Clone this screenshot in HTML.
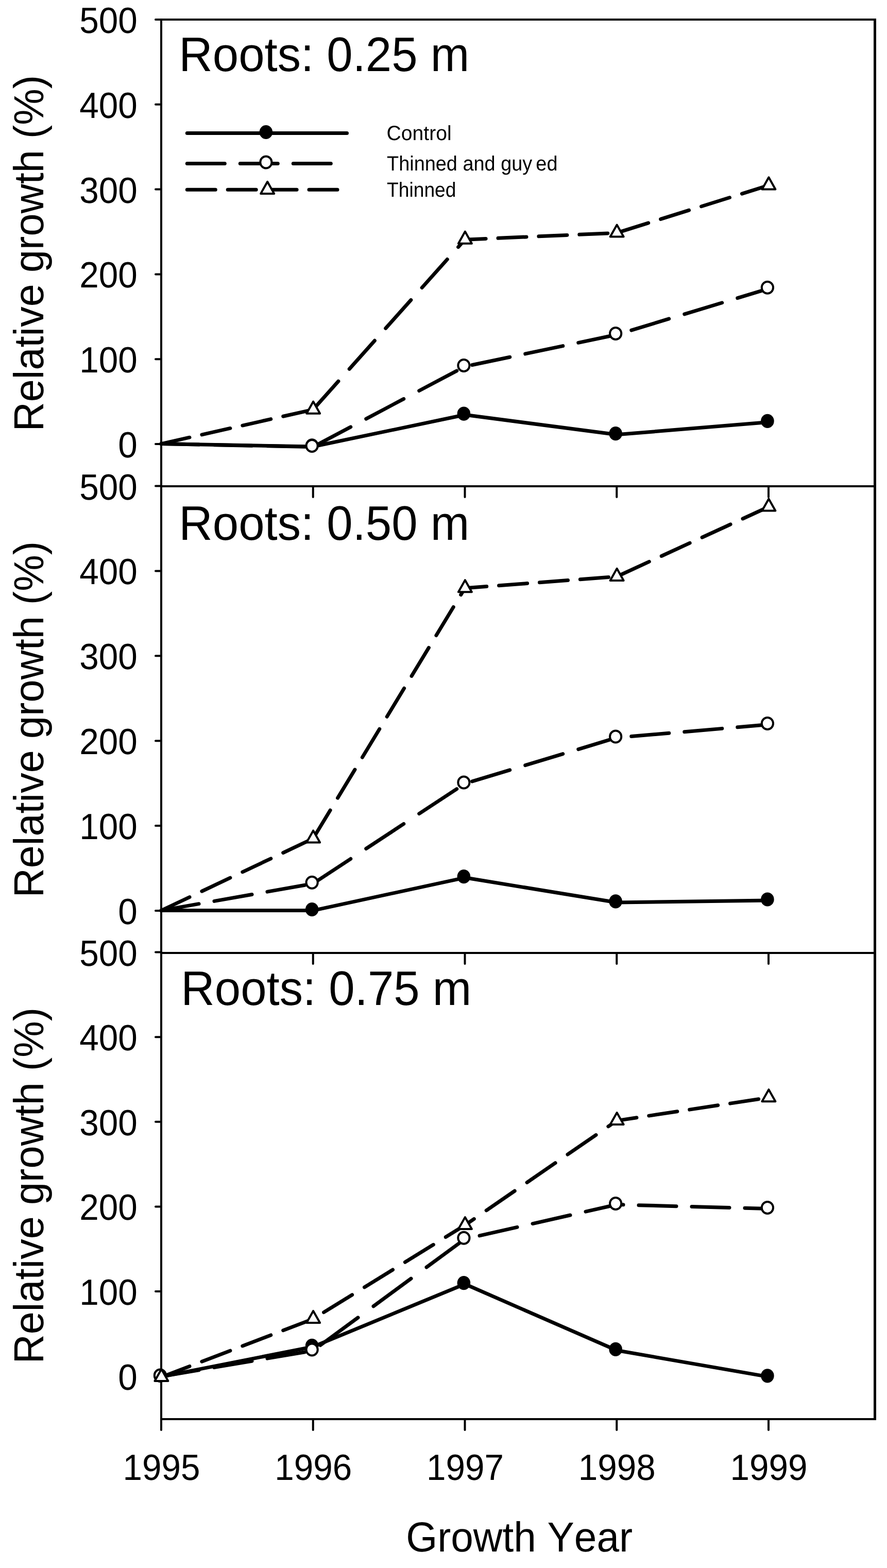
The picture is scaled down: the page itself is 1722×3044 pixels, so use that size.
<!DOCTYPE html>
<html lang="en"><head><meta charset="utf-8"><title>Relative growth of roots by growth year</title>
<style>html,body{margin:0;padding:0;background:#fff}body{width:1722px;height:3044px;overflow:hidden}svg{display:block}text{font-family:"Liberation Sans",sans-serif;fill:#000;white-space:pre;font-kerning:none;text-rendering:geometricPrecision}.ax{stroke:#000;stroke-width:4;fill:none;stroke-linecap:butt}.tk{stroke:#000;stroke-width:4;fill:none;stroke-linecap:round}.ln{stroke:#000;stroke-width:7;fill:none;stroke-linecap:round;stroke-linejoin:round}.om{fill:#fff;stroke:#000;stroke-width:4;stroke-linejoin:round}.fm{fill:#000;stroke:none}</style>
</head><body>
<svg width="1722" height="3044" viewBox="0 0 1722 3044">
<rect x="0" y="0" width="1722" height="3044" fill="#fff"/>
<g class="tk">
<line x1="302" y1="38" x2="313" y2="38"/>
<line x1="302" y1="202.8" x2="313" y2="202.8"/>
<line x1="302" y1="367.6" x2="313" y2="367.6"/>
<line x1="302" y1="532.4" x2="313" y2="532.4"/>
<line x1="302" y1="697.2" x2="313" y2="697.2"/>
<line x1="302" y1="862" x2="313" y2="862"/>
<line x1="302" y1="943.6" x2="313" y2="943.6"/>
<line x1="302" y1="1108.48" x2="313" y2="1108.48"/>
<line x1="302" y1="1273.36" x2="313" y2="1273.36"/>
<line x1="302" y1="1438.24" x2="313" y2="1438.24"/>
<line x1="302" y1="1603.12" x2="313" y2="1603.12"/>
<line x1="302" y1="1768" x2="313" y2="1768"/>
<line x1="302" y1="1848.6" x2="313" y2="1848.6"/>
<line x1="302" y1="2013.22" x2="313" y2="2013.22"/>
<line x1="302" y1="2177.84" x2="313" y2="2177.84"/>
<line x1="302" y1="2342.46" x2="313" y2="2342.46"/>
<line x1="302" y1="2507.08" x2="313" y2="2507.08"/>
<line x1="302" y1="2671.7" x2="313" y2="2671.7"/>
<line x1="607.75" y1="944" x2="607.75" y2="965"/>
<line x1="902.5" y1="944" x2="902.5" y2="965"/>
<line x1="1197.25" y1="944" x2="1197.25" y2="965"/>
<line x1="1492" y1="944" x2="1492" y2="965"/>
<line x1="607.75" y1="1850" x2="607.75" y2="1871"/>
<line x1="902.5" y1="1850" x2="902.5" y2="1871"/>
<line x1="1197.25" y1="1850" x2="1197.25" y2="1871"/>
<line x1="1492" y1="1850" x2="1492" y2="1871"/>
<line x1="313" y1="2755" x2="313" y2="2776"/>
<line x1="607.75" y1="2755" x2="607.75" y2="2776"/>
<line x1="902.5" y1="2755" x2="902.5" y2="2776"/>
<line x1="1197.25" y1="2755" x2="1197.25" y2="2776"/>
<line x1="1492" y1="2755" x2="1492" y2="2776"/>
</g>
<g class="ax">
<line x1="313" y1="36" x2="313" y2="2757"/>
<line x1="1698.5" y1="36" x2="1698.5" y2="2757" stroke-width="5"/>
<line x1="313" y1="38" x2="1698.5" y2="38"/>
<line x1="313" y1="944" x2="1698.5" y2="944"/>
<line x1="313" y1="1850" x2="1698.5" y2="1850"/>
<line x1="313" y1="2755" x2="1698.5" y2="2755"/>
</g>
<g class="ln">
<path d="M313 861.6 L607.75 867 L902.5 805.3 L1197.25 843.8 L1492 819.5"/>
</g>
<g class="fm"><ellipse cx="605.65" cy="864.9" rx="12.8" ry="13.6"/><ellipse cx="900.4" cy="803.2" rx="12.8" ry="13.6"/><ellipse cx="1195.15" cy="841.7" rx="12.8" ry="13.6"/><ellipse cx="1489.9" cy="817.4" rx="12.8" ry="13.6"/></g>
<g class="ln">
<path d="M313 861.6L386 863.09M416 863.7L489 865.18M519 865.79L592 867.28"/>
<path d="M607.75 867.6L680.75 828.94M710.75 813.05L783.75 774.39M813.75 758.5L886.75 719.84M916.75 708.51L989.75 693.21M1019.75 686.92L1092.75 671.61M1122.75 665.32L1195.75 650.01M1225.75 641.07L1298.75 618.95M1328.75 609.86L1401.75 587.74M1431.75 578.65L1492 560.4"/>
</g>
<g class="om"><ellipse cx="605.65" cy="865.5" rx="11.1" ry="11.5"/><ellipse cx="900.4" cy="709.4" rx="11.1" ry="11.5"/><ellipse cx="1195.15" cy="647.6" rx="11.1" ry="11.5"/><ellipse cx="1489.9" cy="558.3" rx="11.1" ry="11.5"/></g>
<g class="ln">
<path d="M313 861.6L368 849.21M391.9 843.83L446.9 831.44M470.8 826.05L525.8 813.66M549.7 808.28L604.7 795.89"/>
<path d="M607.75 795.2L656.88 740.2M678.22 716.3L727.35 661.3M748.69 637.4L797.82 582.4M819.17 558.5L868.29 503.5M889.64 479.6L902.5 465.2M902.5 465.2L943.1 463.4M967 462.33L1022 459.89M1045.9 458.83L1100.9 456.38M1124.8 455.32L1179.8 452.88M1203.7 450.08L1258.7 432.88M1282.6 425.4L1337.6 408.2M1361.5 400.72L1416.5 383.52M1440.4 376.04L1492 359.9"/>
</g>
<g class="om"><polygon points="608.15,779.6 621.15,802.7 595.15,802.7"/><polygon points="902.9,449.6 915.9,472.7 889.9,472.7"/><polygon points="1197.65,436.5 1210.65,459.6 1184.65,459.6"/><polygon points="1492.4,344.3 1505.4,367.4 1479.4,367.4"/></g>
<g class="ln">
<path d="M313 1767.6 L607.75 1767.6 L902.5 1703.8 L1197.25 1752 L1492 1748.1"/>
</g>
<g class="fm"><ellipse cx="605.65" cy="1765.5" rx="12.8" ry="13.6"/><ellipse cx="900.4" cy="1701.7" rx="12.8" ry="13.6"/><ellipse cx="1195.15" cy="1749.9" rx="12.8" ry="13.6"/><ellipse cx="1489.9" cy="1746" rx="12.8" ry="13.6"/></g>
<g class="ln">
<path d="M313 1767.6L386 1754.67M416 1749.36L489 1736.43M519 1731.12L592 1718.19"/>
<path d="M607.75 1715.4L680.75 1667.3M710.75 1647.54L783.75 1599.44M813.75 1579.67L886.75 1531.58M916.75 1516.89L989.75 1494.8M1019.75 1485.72L1092.75 1463.62M1122.75 1454.55L1195.75 1432.45M1225.75 1429.54L1298.75 1423.25M1328.75 1420.67L1401.75 1414.38M1431.75 1411.79L1492 1406.6"/>
</g>
<g class="om"><ellipse cx="605.65" cy="1713.3" rx="11.1" ry="11.5"/><ellipse cx="900.4" cy="1519.1" rx="11.1" ry="11.5"/><ellipse cx="1195.15" cy="1429.9" rx="11.1" ry="11.5"/><ellipse cx="1489.9" cy="1404.5" rx="11.1" ry="11.5"/></g>
<g class="ln">
<path d="M313 1767.6L368 1741.55M391.9 1730.23L446.9 1704.18M470.8 1692.86L525.8 1666.81M549.7 1655.49L604.7 1629.44"/>
<path d="M607.75 1628L641.09 1573M655.58 1549.1L688.92 1494.1M703.41 1470.2L736.76 1415.2M751.25 1391.3L784.59 1336.3M799.08 1312.4L832.42 1257.4M846.91 1233.5L880.25 1178.5M894.74 1154.6L902.5 1141.8M902.5 1141.8L944.7 1138.59M968.6 1136.78L1023.6 1132.6M1047.5 1130.78L1102.5 1126.6M1126.4 1124.78L1181.4 1120.6M1205.3 1115.7L1260.3 1090.44M1284.2 1079.46L1339.2 1054.19M1363.1 1043.21L1418.1 1017.95M1442 1006.97L1492 984"/>
</g>
<g class="om"><polygon points="608.15,1612.4 621.15,1635.5 595.15,1635.5"/><polygon points="902.9,1126.2 915.9,1149.3 889.9,1149.3"/><polygon points="1197.65,1103.8 1210.65,1126.9 1184.65,1126.9"/><polygon points="1492.4,968.4 1505.4,991.5 1479.4,991.5"/></g>
<g class="ln">
<path d="M313 2672.6 L607.75 2614.4 L902.5 2492.8 L1197.25 2621.5 L1492 2672.9"/>
</g>
<g class="fm"><ellipse cx="310.9" cy="2670.5" rx="12.8" ry="13.6"/><ellipse cx="605.65" cy="2612.3" rx="12.8" ry="13.6"/><ellipse cx="900.4" cy="2490.7" rx="12.8" ry="13.6"/><ellipse cx="1195.15" cy="2619.4" rx="12.8" ry="13.6"/><ellipse cx="1489.9" cy="2670.8" rx="12.8" ry="13.6"/></g>
<g class="ln">
<path d="M313 2672.2L386 2659.77M416 2654.66L489 2642.22M519 2637.12L592 2624.68M622 2611.53L695 2557.88M725 2535.84L798 2482.19M828 2460.15L901 2406.5M931 2398.93L1004 2382.36M1034 2375.55L1107 2358.98M1137 2352.18L1197.25 2338.5M1197.25 2338.5L1210 2338.85M1240 2339.66L1313 2341.64M1343 2342.46L1416 2344.44M1446 2345.25L1492 2346.5"/>
</g>
<g class="om"><ellipse cx="310.9" cy="2670.1" rx="11.1" ry="11.5"/><ellipse cx="605.65" cy="2619.9" rx="11.1" ry="11.5"/><ellipse cx="900.4" cy="2403.3" rx="11.1" ry="11.5"/><ellipse cx="1195.15" cy="2336.4" rx="11.1" ry="11.5"/><ellipse cx="1489.9" cy="2344.4" rx="11.1" ry="11.5"/></g>
<g class="ln">
<path d="M313 2673.5L368 2652.41M391.9 2643.25L446.9 2622.17M470.8 2613L525.8 2591.92M549.7 2582.75L604.7 2561.67M628.6 2547.63L683.6 2513.69M707.5 2498.94L762.5 2465M786.4 2450.25L841.4 2416.31M865.3 2401.56L902.5 2378.6M902.5 2378.6L920.3 2366.34M944.2 2349.88L999.2 2312M1023.1 2295.54L1078.1 2257.66M1102 2241.2L1157 2203.32M1180.9 2186.86L1197.25 2175.6M1197.25 2175.6L1235.9 2169.73M1259.8 2166.09L1314.8 2157.73M1338.7 2154.1L1393.7 2145.74M1417.6 2142.11L1472.6 2133.75"/>
</g>
<g class="om"><polygon points="313.4,2657.9 326.4,2681 300.4,2681"/><polygon points="608.15,2544.9 621.15,2568 595.15,2568"/><polygon points="902.9,2363 915.9,2386.1 889.9,2386.1"/><polygon points="1197.65,2160 1210.65,2183.1 1184.65,2183.1"/><polygon points="1492.4,2115.2 1505.4,2138.3 1479.4,2138.3"/></g>
<g class="ln"><path d="M363.3 258.5 L673.5 258.5"/><path d="M363.3 317.4L436.3 317.4M466.3 317.4L539.3 317.4M569.3 317.4L642.3 317.4"/><path d="M363.3 368.3L418.3 368.3M442.2 368.3L497.2 368.3M521.1 368.3L576.1 368.3M600 368.3L655 368.3"/></g>
<g class="fm"><ellipse cx="516.4" cy="256.5" rx="12.8" ry="13.6"/></g>
<g class="om"><ellipse cx="516.4" cy="315.1" rx="11.1" ry="11.5"/><polygon points="519.2,352.8 532.2,375.9 506.2,375.9"/></g>
<text transform="translate(750.61 272) scale(0.9780 1)" font-size="40">Control</text>
<text transform="translate(751.05 330.9) scale(0.9470 1)" font-size="40">Thinned and guy<tspan x="305.52">ed</tspan></text>
<text transform="translate(751.06 382) scale(0.9300 1)" font-size="40">Thinned</text>
<g font-size="70.8" text-anchor="end">
<text transform="translate(266.84 64) scale(0.953 1)">500</text>
<text transform="translate(266.84 228.8) scale(0.953 1)">400</text>
<text transform="translate(266.84 393.6) scale(0.953 1)">300</text>
<text transform="translate(266.84 558.4) scale(0.953 1)">200</text>
<text transform="translate(266.84 723.2) scale(0.953 1)">100</text>
<text transform="translate(266.84 888) scale(0.953 1)">0</text>
<text transform="translate(266.84 969.6) scale(0.953 1)">500</text>
<text transform="translate(266.84 1134.48) scale(0.953 1)">400</text>
<text transform="translate(266.84 1299.36) scale(0.953 1)">300</text>
<text transform="translate(266.84 1464.24) scale(0.953 1)">200</text>
<text transform="translate(266.84 1629.12) scale(0.953 1)">100</text>
<text transform="translate(266.84 1794) scale(0.953 1)">0</text>
<text transform="translate(266.84 1874.6) scale(0.953 1)">500</text>
<text transform="translate(266.84 2039.22) scale(0.953 1)">400</text>
<text transform="translate(266.84 2203.84) scale(0.953 1)">300</text>
<text transform="translate(266.84 2368.46) scale(0.953 1)">200</text>
<text transform="translate(266.84 2533.08) scale(0.953 1)">100</text>
<text transform="translate(266.84 2697.7) scale(0.953 1)">0</text>
</g>
<g font-size="70.8">
<text transform="translate(238.61 2873.2) scale(0.9524 1)">1995</text>
<text transform="translate(533.36 2873.2) scale(0.9524 1)">1996</text>
<text transform="translate(828.11 2873.2) scale(0.9524 1)">1997</text>
<text transform="translate(1122.86 2873.2) scale(0.9524 1)">1998</text>
<text transform="translate(1417.61 2873.2) scale(0.9524 1)">1999</text>
</g>
<text transform="translate(788.16 3011.9) scale(0.9617 1)" font-size="81.5">Growth Year</text>
<text transform="translate(84.1 837.5) rotate(-90) scale(0.9726 1)" font-size="81.5">Relative growth (%)</text>
<text transform="translate(84.1 1742.5) rotate(-90) scale(0.9726 1)" font-size="81.5">Relative growth (%)</text>
<text transform="translate(84.1 2647.5) rotate(-90) scale(0.9726 1)" font-size="81.5">Relative growth (%)</text>
<text transform="translate(347.37 138) scale(0.9635 1)" font-size="94">Roots: 0.25 m</text>
<text transform="translate(347.37 1048) scale(0.9635 1)" font-size="94">Roots: 0.50 m</text>
<text transform="translate(351.37 1951) scale(0.9637 1)" font-size="94">Roots: 0.75 m</text>
</svg>
</body></html>
